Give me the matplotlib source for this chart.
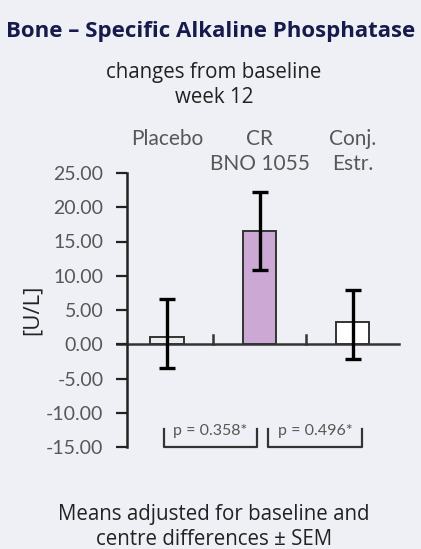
import numpy as np
import matplotlib.pyplot as plt
from matplotlib import font_manager

groups = ['Placebo', 'CR\nBNO 1055', 'Conj.\nEstr.']
means = [1.1, 16.5, 3.2]
err_low = [-3.5, 10.9, -2.1]
err_high = [6.6, 22.2, 7.9]
colours = ['#ececee', '#cca8d4', '#ffffff']
p_labels = ['p = 0.358*', 'p = 0.496*']
p_spans = [(-0.03, 0.97), (1.09, 2.10)]
yticks = [25, 20, 15, 10, 5, 0, -5, -10, -15]

bg = '#eff0f5'
light = 'Lato'
names = {f.name for f in font_manager.fontManager.ttflist}
if 'Lato' not in names:
    light = 'DejaVu Sans'

fig = plt.figure(figsize=(4.21, 5.49), dpi=100, facecolor=bg)
ax = fig.add_axes([127 / 421, 1 - 447 / 549, 272 / 421, 274 / 549])
ax.set_facecolor(bg)

x = np.arange(len(groups))
means = np.array(means)
yerr = [means - np.array(err_low), np.array(err_high) - means]
ax.bar(x, means, width=0.36, color=colours, edgecolor='#333333', linewidth=1.4, zorder=2)
ax.errorbar(x, means, yerr=yerr, fmt='none', ecolor='black', elinewidth=2.4,
            capsize=6, capthick=2.4, zorder=3)

# zero line with small separator ticks
ax.axhline(0, xmin=-0.035, xmax=1.0, color='#333333', lw=1.8, clip_on=False, zorder=1)
for b in [0.5, 1.5]:
    ax.plot([b, b], [0, 1.4], color='#333333', lw=1.8, zorder=1)

ax.set_xlim(-0.43, 2.5)
ax.set_ylim(-15, 25)
ax.set_yticks(yticks)
ax.set_yticklabels([f'{v:.2f}' for v in yticks], fontsize=14, color='#575757',
                   family=light)
ax.tick_params(axis='y', direction='out', length=8, width=1.6, color='#222222', pad=9)
ax.set_xticks([])
for s in ['top', 'right', 'bottom']:
    ax.spines[s].set_visible(False)
ax.spines['left'].set_linewidth(1.8)
ax.spines['left'].set_color('#222222')

for i, g in enumerate(groups):
    ax.text(i, 1.16, g, transform=ax.get_xaxis_transform(), ha='center', va='top',
            fontsize=15, color='#575757', family=light, linespacing=1.3)

for lab, (a, b) in zip(p_labels, p_spans):
    ax.plot([a, a, b, b], [-12.3, -15, -15, -12.3], color='#333333', lw=1.6,
            clip_on=False, zorder=2)
    ax.text((a + b) / 2, -12.6, lab, ha='center', va='center', fontsize=11.5,
            color='#575757', family=light)

ax.set_ylabel('[U/L]', fontsize=16, color='#222222', family='Open Sans')
ax.yaxis.set_label_coords(-0.31, 0.5)

fig.text(0.5, 1 - 31 / 549, 'Bone \u2013 Specific Alkaline Phosphatase', ha='center',
         va='center', fontsize=16, fontweight='bold', color='#161b4c', family='Open Sans')
fig.text(0.508, 1 - 85 / 549, 'changes from baseline\nweek 12', ha='center', va='center',
         fontsize=14.8, color='#222222', family='Open Sans', linespacing=1.3)
fig.text(0.508, 1 - 527 / 549, 'Means adjusted for baseline and\ncentre differences \u00b1 SEM',
         ha='center', va='center', fontsize=14.8, color='#222222', family='Open Sans',
         linespacing=1.3)

fig.savefig('out.png', dpi=100, facecolor=bg)
